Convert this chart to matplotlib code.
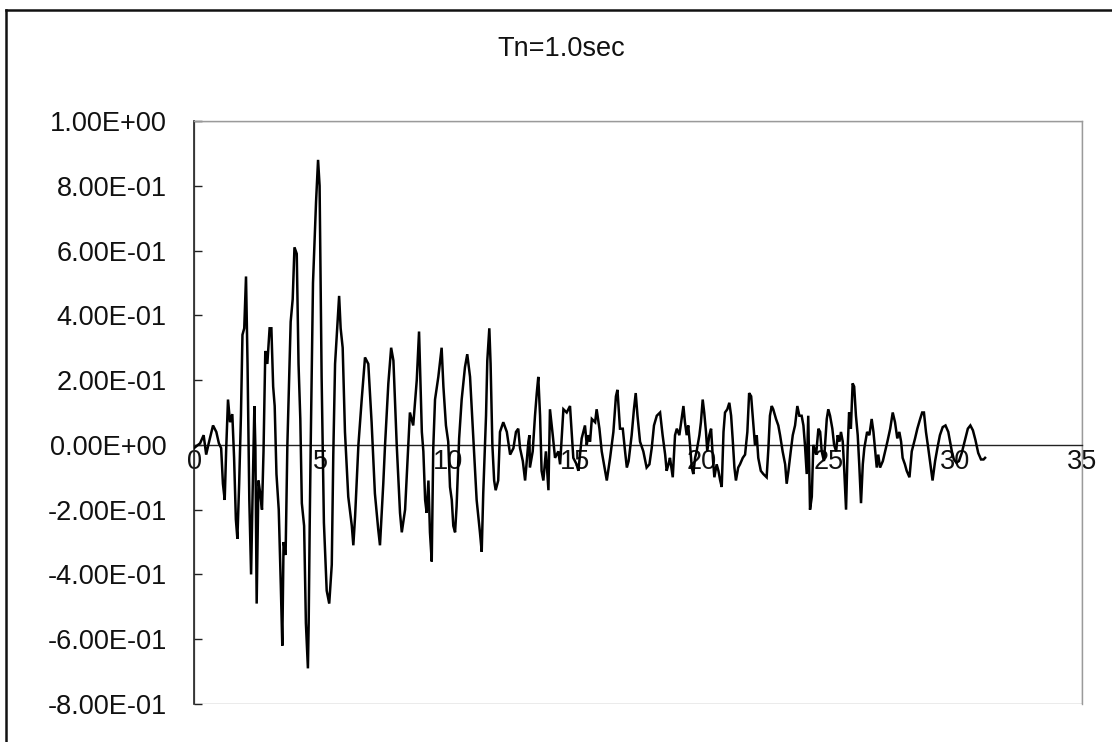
import matplotlib
matplotlib.use("Agg")
import matplotlib.pyplot as plt
from matplotlib.patches import Rectangle
from matplotlib.lines import Line2D
from matplotlib.ticker import FuncFormatter

# Response time history for a single-degree-of-freedom oscillator, Tn = 1.0 s
time_s = [
    0.00, 0.24, 0.38, 0.48, 0.58, 0.75, 0.88, 0.98, 1.07, 1.14, 1.21, 1.27, 1.34, 1.42, 1.51,
    1.58, 1.65, 1.71, 1.78, 1.85, 1.91, 1.98, 2.05, 2.11, 2.18, 2.25, 2.31, 2.38, 2.42, 2.47,
    2.54, 2.61, 2.68, 2.74, 2.81, 2.89, 2.98, 3.05, 3.12, 3.18, 3.25, 3.34, 3.42, 3.48, 3.53,
    3.61, 3.68, 3.74, 3.81, 3.89, 3.96, 4.05, 4.12, 4.19, 4.25, 4.34, 4.41, 4.49, 4.52, 4.56,
    4.60, 4.69, 4.81, 4.89, 4.95, 5.03, 5.12, 5.23, 5.33, 5.43, 5.49, 5.56, 5.65, 5.72, 5.78,
    5.86, 5.95, 6.08, 6.22, 6.28, 6.35, 6.48, 6.61, 6.74, 6.87, 7.00, 7.13, 7.26, 7.33, 7.46,
    7.53, 7.66, 7.77, 7.86, 7.99, 8.12, 8.19, 8.32, 8.45, 8.51, 8.64, 8.78, 8.87, 8.98, 9.04,
    9.11, 9.17, 9.24, 9.30, 9.37, 9.43, 9.50, 9.63, 9.76, 9.83, 9.93, 10.02, 10.09, 10.16, 10.22,
    10.29, 10.35, 10.45, 10.55, 10.68, 10.77, 10.88, 11.01, 11.14, 11.27, 11.34, 11.40, 11.51, 11.56, 11.64,
    11.69, 11.76, 11.83, 11.89, 11.99, 12.06, 12.19, 12.33, 12.46, 12.59, 12.69, 12.78, 12.85, 12.96, 13.05,
    13.18, 13.22, 13.24, 13.35, 13.44, 13.51, 13.57, 13.64, 13.70, 13.77, 13.87, 13.97, 14.03, 14.14, 14.23,
    14.36, 14.43, 14.56, 14.69, 14.82, 14.95, 15.08, 15.15, 15.28, 15.41, 15.48, 15.54, 15.61, 15.68, 15.81,
    15.87, 15.98, 16.07, 16.16, 16.27, 16.40, 16.53, 16.63, 16.69, 16.79, 16.90, 16.99, 17.06, 17.13, 17.25,
    17.34, 17.41, 17.48, 17.58, 17.71, 17.84, 17.95, 18.04, 18.13, 18.24, 18.37, 18.47, 18.57, 18.63, 18.70,
    18.76, 18.87, 18.96, 19.03, 19.13, 19.22, 19.29, 19.35, 19.42, 19.48, 19.55, 19.62, 19.68, 19.75, 19.81,
    19.92, 19.98, 20.05, 20.11, 20.18, 20.23, 20.31, 20.38, 20.45, 20.51, 20.60, 20.67, 20.74, 20.80, 20.87,
    20.93, 21.02, 21.10, 21.17, 21.23, 21.30, 21.36, 21.45, 21.52, 21.63, 21.72, 21.81, 21.88, 21.96, 22.02,
    22.11, 22.18, 22.24, 22.34, 22.44, 22.57, 22.64, 22.70, 22.77, 22.83, 22.94, 23.03, 23.10, 23.20, 23.30,
    23.36, 23.43, 23.52, 23.60, 23.69, 23.78, 23.86, 23.95, 24.02, 24.08, 24.15, 24.21, 24.28, 24.35, 24.41,
    24.52, 24.61, 24.68, 24.74, 24.83, 24.94, 25.00, 25.07, 25.16, 25.23, 25.31, 25.37, 25.44, 25.50, 25.57,
    25.63, 25.70, 25.76, 25.82, 25.89, 25.96, 26.02, 26.09, 26.16, 26.22, 26.29, 26.36, 26.42, 26.53, 26.62,
    26.71, 26.78, 26.84, 26.91, 26.97, 27.04, 27.15, 27.24, 27.33, 27.44, 27.54, 27.63, 27.72, 27.80, 27.87,
    27.93, 28.02, 28.09, 28.20, 28.29, 28.42, 28.51, 28.62, 28.70, 28.77, 28.85, 28.94, 29.04, 29.11, 29.21,
    29.30, 29.40, 29.51, 29.62, 29.73, 29.80, 29.87, 29.95, 30.05, 30.15, 30.26, 30.39, 30.50, 30.60, 30.70,
    30.80, 30.91, 31.02, 31.12, 31.18,
]

response = [
    -0.010, 0.005, 0.030, -0.030, 0.005, 0.060, 0.040, 0.005, -0.010, -0.120, -0.170, -0.010, 0.140, 0.070, 0.095,
    -0.040, -0.230, -0.290, -0.120, 0.090, 0.340, 0.360, 0.520, 0.250, -0.170, -0.400, -0.150, 0.120, -0.010, -0.490,
    -0.110, -0.150, -0.200, -0.020, 0.290, 0.250, 0.360, 0.360, 0.180, 0.120, -0.090, -0.200, -0.430, -0.620, -0.300,
    -0.340, 0.000, 0.180, 0.380, 0.450, 0.610, 0.590, 0.250, 0.080, -0.180, -0.250, -0.550, -0.690, -0.550, -0.250,
    0.000, 0.500, 0.750, 0.880, 0.800, 0.210, -0.240, -0.450, -0.490, -0.370, -0.030, 0.250, 0.370, 0.460, 0.360,
    0.300, 0.040, -0.160, -0.250, -0.310, -0.220, 0.000, 0.140, 0.270, 0.250, 0.070, -0.150, -0.260, -0.310, -0.120,
    0.000, 0.190, 0.300, 0.260, 0.000, -0.210, -0.270, -0.200, 0.010, 0.100, 0.060, 0.200, 0.350, 0.040, -0.020,
    -0.170, -0.210, -0.110, -0.270, -0.360, -0.010, 0.140, 0.210, 0.300, 0.180, 0.060, 0.010, -0.130, -0.170, -0.250,
    -0.270, -0.190, 0.020, 0.140, 0.240, 0.280, 0.210, 0.020, -0.170, -0.270, -0.330, -0.150, 0.090, 0.260, 0.360,
    0.250, 0.000, -0.110, -0.140, -0.110, 0.040, 0.070, 0.040, -0.030, -0.010, 0.040, 0.050, -0.010, -0.050, -0.110,
    0.010, 0.030, -0.070, -0.020, 0.090, 0.160, 0.210, 0.090, -0.080, -0.110, -0.020, -0.140, 0.110, 0.030, -0.040,
    -0.020, -0.060, 0.110, 0.100, 0.120, -0.040, -0.060, -0.080, 0.020, 0.060, 0.000, 0.030, 0.010, 0.080, 0.070,
    0.110, 0.050, -0.020, -0.060, -0.110, -0.040, 0.040, 0.150, 0.170, 0.050, 0.050, -0.020, -0.070, -0.050, 0.030,
    0.110, 0.160, 0.090, 0.010, -0.020, -0.070, -0.060, -0.010, 0.060, 0.090, 0.100, 0.030, -0.030, -0.080, -0.060,
    -0.040, -0.100, 0.030, 0.050, 0.030, 0.080, 0.120, 0.070, 0.030, 0.060, 0.000, -0.070, -0.090, -0.040, -0.020,
    0.030, 0.070, 0.140, 0.100, 0.040, -0.020, 0.030, 0.050, -0.040, -0.100, -0.060, -0.080, -0.110, -0.130, 0.040,
    0.100, 0.110, 0.130, 0.090, 0.020, -0.070, -0.110, -0.070, -0.060, -0.040, -0.030, 0.040, 0.160, 0.150, 0.090,
    0.000, 0.030, -0.040, -0.080, -0.090, -0.100, -0.010, 0.090, 0.120, 0.110, 0.080, 0.060, 0.030, -0.020, -0.060,
    -0.120, -0.080, -0.020, 0.030, 0.060, 0.120, 0.090, 0.090, 0.060, 0.000, -0.090, 0.090, -0.200, -0.160, 0.000,
    -0.030, 0.050, 0.040, -0.020, -0.050, 0.080, 0.110, 0.090, 0.050, 0.000, -0.020, 0.030, 0.010, 0.040, 0.010,
    -0.080, -0.200, -0.020, 0.100, 0.050, 0.190, 0.180, 0.090, 0.030, -0.060, -0.180, -0.060, -0.010, 0.040, 0.030,
    0.080, 0.040, -0.010, -0.070, -0.030, -0.070, -0.050, -0.020, 0.010, 0.050, 0.100, 0.070, 0.020, 0.040, 0.010,
    -0.040, -0.060, -0.080, -0.100, -0.020, 0.020, 0.050, 0.080, 0.100, 0.100, 0.040, -0.010, -0.070, -0.110, -0.050,
    -0.010, 0.030, 0.055, 0.060, 0.040, 0.010, -0.020, -0.045, -0.055, -0.050, -0.025, 0.015, 0.050, 0.060, 0.045,
    0.015, -0.025, -0.045, -0.045, -0.040,
]

title_text = "Tn=1.0sec"
y_ticks = [1.0, 0.8, 0.6, 0.4, 0.2, 0.0, -0.2, -0.4, -0.6, -0.8]
x_ticks = [0, 5, 10, 15, 20, 25, 30, 35]

W, H, DPI = 1112, 742, 100
fig = plt.figure(figsize=(W / DPI, H / DPI), dpi=DPI)
fig.patch.set_facecolor("white")

font = "Liberation Sans"
fs = 19.5

# outer chart frame (top and left edges visible)
fig.add_artist(Line2D([6 / W, 1.0], [1 - 10 / H, 1 - 10 / H], transform=fig.transFigure,
                      color="#111111", lw=1.8))
fig.add_artist(Line2D([6 / W, 6 / W], [0.0, 1 - 10 / H], transform=fig.transFigure,
                      color="#111111", lw=1.8))

fig.text(561 / W, 1 - 49 / H, title_text, ha="center", va="center", fontsize=19.5,
         family=font, color="#111111")

left, right, top, bottom = 194, 1082, 121, 704
ax = fig.add_axes([left / W, 1 - bottom / H, (right - left) / W, (bottom - top) / H])
ax.set_xlim(0, 35)
ax.set_ylim(-0.8, 1.0)
ax.set_facecolor("white")

# plot-area border
for side in ("top", "right"):
    ax.spines[side].set_color("#9a9a9a")
    ax.spines[side].set_linewidth(1.0)
ax.spines["left"].set_color("#222222")
ax.spines["left"].set_linewidth(1.2)
ax.add_patch(Rectangle((0, 0), 1, 1, transform=ax.transAxes, fill=False,
                       edgecolor="#9a9a9a", lw=1.0, zorder=0.5))
# category axis crossing at zero
ax.spines["bottom"].set_position(("data", 0))
ax.spines["bottom"].set_color("#222222")
ax.spines["bottom"].set_linewidth(1.0)

ax.plot(time_s, response, color="black", lw=1.8, solid_joinstyle="miter", zorder=3)

ax.set_yticks(y_ticks)
ax.yaxis.set_major_formatter(FuncFormatter(
    lambda v, p: ("%.2E" % v) if abs(v) > 1e-9 else "0.00E+00"))
ax.set_xticks(x_ticks)
ax.set_xticklabels([str(x) for x in x_ticks])

ax.tick_params(axis="y", direction="in", length=6, width=1.0, color="#222222",
               pad=19.5, labelsize=fs, labelcolor="#111111")
ax.tick_params(axis="x", direction="out", length=0, pad=3, labelsize=fs, labelcolor="#111111")
for lab in ax.get_xticklabels() + ax.get_yticklabels():
    lab.set_family(font)

fig.savefig("out.png", dpi=DPI, facecolor="white")
